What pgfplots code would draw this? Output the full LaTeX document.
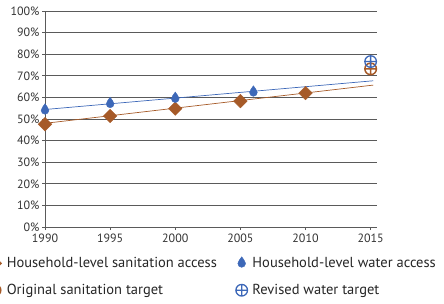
\documentclass[border=0pt]{standalone}
\usepackage{fontspec}
\setmainfont{PT Sans}
\usepackage{pgfplots}
\pgfplotsset{compat=1.18}
\definecolor{sbrown}{HTML}{A65A28}
\definecolor{sblue}{HTML}{3D68B8}
\definecolor{gridc}{HTML}{5A5A5A}
\pgfdeclareplotmark{drop}{%
 \pgfpathmoveto{\pgfqpoint{0pt}{1.7\pgfplotmarksize}}%
 \pgfpathcurveto{\pgfqpoint{0.3\pgfplotmarksize}{1.1\pgfplotmarksize}}{\pgfqpoint{\pgfplotmarksize}{0.6\pgfplotmarksize}}{\pgfqpoint{\pgfplotmarksize}{0pt}}%
 \pgfpatharc{0}{-180}{\pgfplotmarksize}%
 \pgfpathcurveto{\pgfqpoint{-\pgfplotmarksize}{0.6\pgfplotmarksize}}{\pgfqpoint{-0.3\pgfplotmarksize}{1.1\pgfplotmarksize}}{\pgfqpoint{0pt}{1.7\pgfplotmarksize}}%
 \pgfpathclose
 \pgfusepathqfillstroke}
\begin{document}
\begin{tikzpicture}
\begin{axis}[
  at={(45pt,-227pt)}, anchor=south west,
  scale only axis, width=331.5pt, height=216pt,
  xmin=1990, xmax=2015.45, ymin=0, ymax=100,
  xtick={1990,1995,2000,2005,2010,2015},
  ytick={0,10,...,100},
  yticklabel={\pgfmathprintnumber{\tick}\%},
  /pgf/number format/assume math mode=true,
  /pgf/number format/1000 sep={},
  axis x line*=bottom, axis y line*=left,
  axis line style={gridc, line width=1.0pt, -},
  tick style={gridc, line width=0.8pt},
  tick align=outside, major tick length=3pt,
  ymajorgrids, grid style={gridc, line width=1.0pt},
  ticklabel style={font=\fontsize{12}{14}\selectfont, text=black!80},
  yticklabel style={xshift=1pt},
  clip=false,
  legend columns=2,
  legend cell align=left,
  legend style={draw=none, fill=none, at={(axis description cs:-0.181,-0.122)}, anchor=north west,
    font=\fontsize{14.5}{17}\selectfont, text=black!85, row sep=11pt,
    /tikz/every odd column/.append style={column sep=3pt},
    /tikz/every even column/.append style={column sep=17pt}},
  legend image code/.code={\draw[#1] plot coordinates {(0pt,0pt)};},
]
\addplot[only marks, mark=square*, mark size=4.8pt, mark options={rotate=45, fill=sbrown, draw=sbrown}]
  coordinates {(1990,47.6) (1995,51.4) (2000,54.8) (2005,58.3) (2010,62.0)};
\addlegendentry{Household-level sanitation access}
\addplot[only marks, mark=drop, mark size=3.9pt, mark options={fill=sblue, draw=sblue}]
  coordinates {(1990,54.0) (1995,57.0) (2000,59.4) (2006,62.3)};
\addlegendentry{Household-level water access}
\addplot[only marks, mark=oplus, mark size=5.8pt, mark options={draw=sbrown, line width=1.5pt}]
  coordinates {(2015,73.2)};
\addlegendentry{Original sanitation target}
\addplot[only marks, mark=oplus, mark size=5.8pt, mark options={draw=sblue, line width=1.3pt}]
  coordinates {(2015,76.6)};
\addlegendentry{Revised water target}
\addplot[sblue, line width=0.7pt, forget plot] coordinates {(1990,54.4) (2015.2,67.7)};
\addplot[sbrown, line width=0.7pt, forget plot] coordinates {(1990,48.0) (2015.2,65.7)};
\end{axis}
\pgfresetboundingbox
\useasboundingbox (0pt,0pt) rectangle (444pt,-303pt);
\end{tikzpicture}
\end{document}
